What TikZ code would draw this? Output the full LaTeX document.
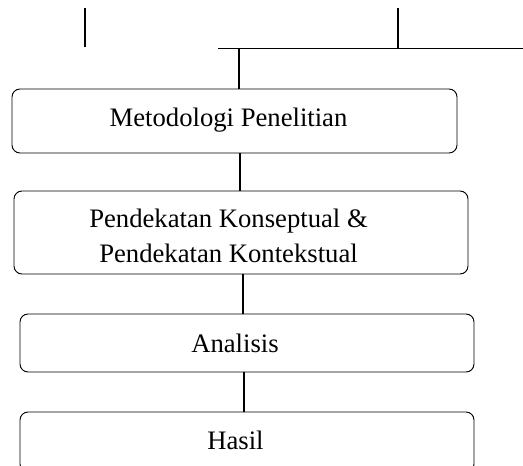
\documentclass[tikz,border=0pt]{standalone}
\usepackage{fontspec}
\setmainfont{Liberation Serif}
\begin{document}
\begin{tikzpicture}[x=0.75pt,y=-0.75pt,
  box/.style={draw, line width=0.7pt, rounded corners=6pt, inner sep=0pt},
  lbl/.style={font=\fontsize{20}{25.5}\selectfont, anchor=base, inner sep=0pt},
  conn/.style={line width=0.85pt},
  bar/.style={line width=1.2pt}]
\useasboundingbox (0,0) rectangle (523,466);
\clip (0,0) rectangle (523,466);
% boxes
\node[box, minimum width=445*0.75pt, minimum height=64*0.75pt] (b1) at (234.5,121) {};
\node[box, minimum width=454*0.75pt, minimum height=83*0.75pt] (b2) at (241,232.5) {};
\node[box, minimum width=454*0.75pt, minimum height=58*0.75pt] (b3) at (247,343) {};
\node[box, minimum width=454*0.75pt, minimum height=60*0.75pt] (b4) at (247,442) {};
% texts
\node[lbl] (t1) at (228.5,127) {Metodologi Penelitian};
\node[lbl] (t2a) at (228.5,228) {Pendekatan Konseptual \&};
\node[lbl] (t2b) at (228.5,262) {Pendekatan Kontekstual};
\node[lbl] (t3) at (235,352) {Analisis};
\node[lbl] (t4) at (235.5,449) {Hasil};
% top lines
\coordinate (lt) at (85,8);
\coordinate (lb) at (85,47);
\coordinate (rt) at (398,8);
\coordinate (rb) at (398,48.5);
\coordinate (hl) at (218,48.5);
\coordinate (hr) at (523,48.5);
\coordinate (j) at (239,48.5);
\draw[conn] (lt) -- (lb);
\draw[conn] (rt) -- (rb);
\draw[bar] (hl) -- (hr);
\draw[conn] (j) -- (j |- b1.north);
% connectors between boxes
\coordinate (c12) at (240,0);
\coordinate (c23) at (243,0);
\coordinate (c34) at (244,0);
\draw[conn] (c12 |- b1.south) -- (c12 |- b2.north);
\draw[conn] (c23 |- b2.south) -- (c23 |- b3.north);
\draw[conn] (c34 |- b3.south) -- (c34 |- b4.north);
\end{tikzpicture}
\end{document}
